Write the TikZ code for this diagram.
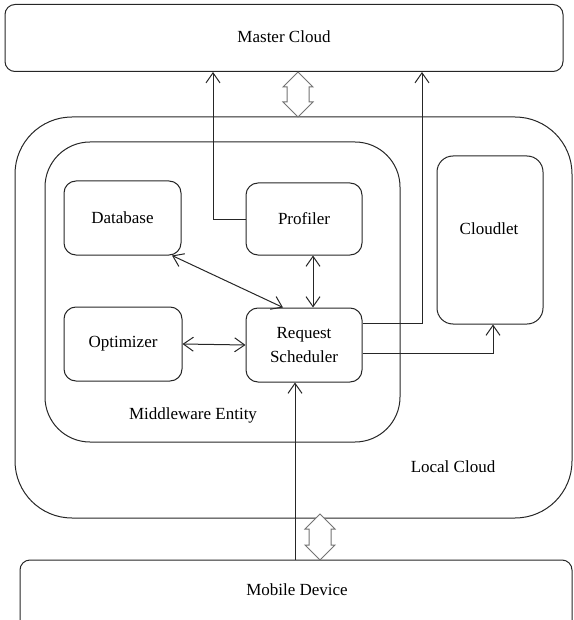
\documentclass[tikz,border=0pt]{standalone}
\usepackage{fontspec}
\setmainfont{Liberation Serif}
\usetikzlibrary{arrows.meta,calc}
\tikzset{
  ln/.style={line width=1pt, draw=black!85},
  box/.style={ln, rectangle, rounded corners=#1, inner sep=0pt, align=center, font=\fontsize{17}{24}\selectfont},
  box/.default=12pt,
  txt/.style={inner sep=0pt, font=\fontsize{17}{24}\selectfont},
  arr/.style={ln, -{Straight Barb[length=10pt,width=14pt]}},
  darr/.style={ln, {Straight Barb[length=10pt,width=14pt]}-{Straight Barb[length=10pt,width=14pt]}},
  hollow/.style={line width=1pt, draw=black!55, fill=white, line join=miter},
}
\newcommand{\hollowdarrow}[4]{% x, ytop, ybot, name
  \draw[hollow] (#1,#2) -- (#1+15,#2+15) -- (#1+11,#2+15) -- (#1+11,#3-15) -- (#1+15,#3-15)
    -- (#1,#3) -- (#1-15,#3-15) -- (#1-11,#3-15) -- (#1-11,#2+15) -- (#1-15,#2+15) -- cycle;
}
\begin{document}
\begin{tikzpicture}[x=1pt,y=-1pt]
\useasboundingbox (0,0) rectangle (573,620);
\clip (0,0) rectangle (573,620);
% outer boxes
\node[box=10pt, minimum width=558pt, minimum height=67pt] (master) at (284,38) {};
\node[txt] (mastert) at (284,37) {Master Cloud};
\node[box=57pt, minimum width=557pt, minimum height=401pt] (local) at (293.5,317.5) {};
\node[box=45pt, minimum width=355pt, minimum height=300pt] (mw) at (222.5,292) {};
\node[box=10pt, minimum width=552pt, minimum height=80pt] (mobile) at (296,600) {};
\node[txt] (mobilet) at (297,590) {Mobile Device};
% inner boxes
\node[box, minimum width=117pt, minimum height=74pt] (db) at (122.5,218) {Database};
\node[box, minimum width=116pt, minimum height=72pt] (prof) at (304,219) {Profiler};
\node[box, minimum width=118pt, minimum height=74pt] (opt) at (123,344) {Optimizer};
\node[box, minimum width=116pt, minimum height=74pt] (rs) at (304,345) {Request\\Scheduler};
\node[box=16pt, minimum width=106pt, minimum height=168pt] (cloudlet) at (490,240) {};
\node[txt] (cloudlett) at (489,229) {Cloudlet};
% labels
\node[txt] (mwt) at (193,415) {Middleware Entity};
\node[txt] (localt) at (453,467) {Local Cloud};
% helper coordinates
\coordinate (c1) at (213,0);
\coordinate (c2) at (422,0);
\coordinate (c3) at (493,0);
\coordinate (c4) at (172,0);
\coordinate (c5) at (283,0);
\coordinate (c6) at (313,0);
\coordinate (c7) at (295,0);
\coordinate (rsA) at ($(rs.east)+(0,-22)$);
\coordinate (rsB) at ($(rs.east)+(0,8)$);
% connectors
\draw[arr] (prof.west) -| (master.south -| c1);
\draw[arr] (rsA) -| (master.south -| c2);
\draw[arr] (rsB) -| (cloudlet.south -| c3);
\draw[darr] (db.south -| c4) -- (rs.north -| c5);
\draw[darr] (prof.south -| c6) -- (rs.north -| c6);
\draw[darr] (opt.east) -- (rs.west);
\draw[arr] (mobile.north -| c7) -- (rs.south -| c7);
% hollow double arrows
\hollowdarrow{298}{72}{117}{h1}
\hollowdarrow{320}{514}{560}{h2}
\end{tikzpicture}
\end{document}
